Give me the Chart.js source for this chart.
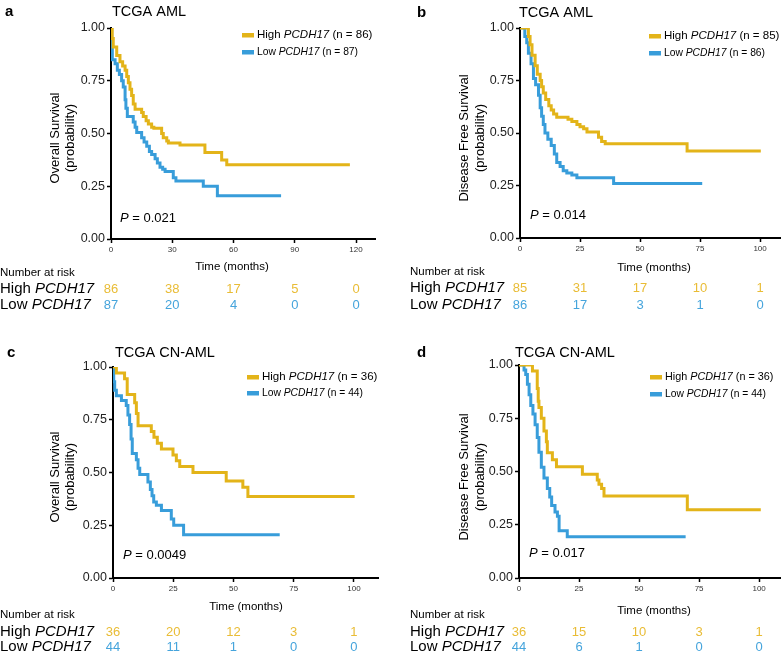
<!DOCTYPE html>
<html>
<head>
<meta charset="utf-8">
<script src="https://cdn.jsdelivr.net/npm/chart.js@4.4.1/dist/chart.umd.min.js"></script>
<style>
html, body { margin: 0; padding: 0; background: #fff; }
#wrap { position: relative; width: 784px; height: 658px; overflow: hidden; }
.panel { position: absolute; width: 392px; }
</style>
</head>
<body>
<div id="wrap">
  <div class="panel" style="left:0;top:0;height:320px"><canvas id="chartA"></canvas></div>
  <div class="panel" style="left:392px;top:0;height:320px"><canvas id="chartB"></canvas></div>
  <div class="panel" style="left:0;top:339px;height:319px"><canvas id="chartC"></canvas></div>
  <div class="panel" style="left:392px;top:339px;height:319px"><canvas id="chartD"></canvas></div>
</div>
<script>
// Kaplan-Meier curves (time in months, survival probability)
// a: TCGA AML, overall survival
const aHighTime = [0, 0.6, 1.1, 2.8, 4.4, 5.7, 6.9, 7.7, 8.5, 9.3, 10.1, 10.9, 11.8, 15.0, 15.8, 17.2, 18.3, 19.9, 21.0, 24.8, 25.6, 27.3, 28.1, 33.8, 46.0, 54.2, 56.7, 117];
const aHighSurv = [1, 0.95, 0.91, 0.87, 0.84, 0.82, 0.80, 0.77, 0.74, 0.71, 0.68, 0.64, 0.615, 0.60, 0.58, 0.56, 0.545, 0.53, 0.525, 0.50, 0.48, 0.465, 0.455, 0.445, 0.41, 0.375, 0.352, 0.352];
const aLowTime = [0, 0.3, 0.65, 2.0, 3.1, 4.1, 5.2, 6.0, 6.9, 7.3, 8.0, 10.9, 11.8, 12.6, 15.0, 16.2, 17.5, 18.8, 19.9, 21.6, 22.7, 24.0, 25.3, 26.5, 30.5, 31.8, 45.2, 52.1, 83.3];
const aLowSurv = [1, 0.92, 0.85, 0.83, 0.80, 0.78, 0.75, 0.72, 0.66, 0.62, 0.58, 0.555, 0.53, 0.505, 0.48, 0.46, 0.44, 0.415, 0.40, 0.38, 0.36, 0.34, 0.33, 0.32, 0.29, 0.275, 0.25, 0.205, 0.205];

// b: TCGA AML, disease free survival
const bHighTime = [0, 3.5, 4.2, 5.0, 6.3, 7.2, 8.4, 9.0, 9.7, 10.7, 12.0, 13.0, 14.0, 15.3, 20.0, 21.6, 23.7, 25.0, 26.5, 27.9, 32.7, 34.0, 35.5, 69.6, 100.3];
const bHighSurv = [1, 0.96, 0.92, 0.87, 0.82, 0.78, 0.75, 0.72, 0.69, 0.66, 0.63, 0.61, 0.59, 0.575, 0.565, 0.555, 0.54, 0.53, 0.52, 0.505, 0.48, 0.46, 0.449, 0.414, 0.414];
const bLowTime = [0, 2.0, 2.8, 3.5, 4.6, 5.6, 6.5, 7.7, 8.4, 9.0, 9.7, 10.4, 11.6, 13.0, 14.3, 15.3, 16.7, 18.0, 19.5, 21.6, 23.7, 39.0, 75.9];
const bLowSurv = [1, 0.96, 0.93, 0.88, 0.83, 0.76, 0.73, 0.68, 0.62, 0.58, 0.54, 0.50, 0.47, 0.44, 0.40, 0.36, 0.34, 0.32, 0.31, 0.30, 0.287, 0.26, 0.26];

// c: TCGA CN-AML, overall survival
const cHighTime = [0, 1.4, 4.8, 5.9, 9.0, 9.7, 10.4, 15.9, 17.0, 18.4, 20.1, 24.9, 26.3, 27.7, 33.2, 47.0, 53.9, 56.0, 100.3];
const cHighSurv = [1, 0.972, 0.944, 0.87, 0.83, 0.78, 0.722, 0.694, 0.667, 0.639, 0.611, 0.583, 0.556, 0.528, 0.50, 0.46, 0.43, 0.386, 0.386];
const cLowTime = [0, 0.3, 0.7, 1.4, 3.5, 5.5, 6.2, 6.9, 7.5, 8.0, 9.7, 10.4, 11.1, 14.5, 15.5, 16.2, 16.9, 18.0, 20.1, 24.2, 25.2, 29.3, 69.2];
const cLowSurv = [1, 0.93, 0.89, 0.864, 0.841, 0.818, 0.773, 0.727, 0.659, 0.59, 0.56, 0.52, 0.49, 0.455, 0.42, 0.39, 0.36, 0.345, 0.32, 0.28, 0.25, 0.205, 0.205];

// d: TCGA CN-AML, disease free survival
const dHighTime = [0, 5.6, 7.6, 8.0, 8.3, 9.3, 10.4, 11.4, 11.8, 13.9, 15.6, 26.4, 32.6, 33.3, 34.4, 35.4, 70.1, 100.7];
const dHighSurv = [1, 0.972, 0.89, 0.83, 0.80, 0.75, 0.69, 0.64, 0.588, 0.555, 0.522, 0.487, 0.46, 0.44, 0.42, 0.385, 0.32, 0.32];
const dLowTime = [0, 2.1, 2.8, 3.5, 4.2, 4.9, 5.8, 6.7, 7.6, 8.3, 9.3, 10.4, 11.8, 12.8, 13.6, 15.0, 16.0, 16.7, 20.1, 69.4];
const dLowSurv = [1, 0.977, 0.955, 0.91, 0.86, 0.81, 0.77, 0.72, 0.66, 0.59, 0.52, 0.47, 0.42, 0.38, 0.34, 0.31, 0.29, 0.222, 0.194, 0.194];

// tick values
const yTicks = [0, 0.25, 0.5, 0.75, 1];
const aTicks = [0, 30, 60, 90, 120];
const bTicks = [0, 25, 50, 75, 100];
const cTicks = [0, 25, 50, 75, 100];
const dTicks = [0, 25, 50, 75, 100];

// number at risk (at each x tick)
const aRiskHigh = [86, 38, 17, 5, 0];
const aRiskLow = [87, 20, 4, 0, 0];
const bRiskHigh = [85, 31, 17, 10, 1];
const bRiskLow = [86, 17, 3, 1, 0];
const cRiskHigh = [36, 20, 12, 3, 1];
const cRiskLow = [44, 11, 1, 0, 0];
const dRiskHigh = [36, 15, 10, 3, 1];
const dRiskLow = [44, 6, 1, 0, 0];

const FONT = "'Liberation Sans', Arial, Helvetica, sans-serif";
const GOLD = '#E3B419';
const BLUE = '#389DDA';
const GOLD_TXT = '#E9BC35';
const BLUE_TXT = '#45A4DC';

function pts(t, s) {
  return t.map((v, i) => ({ x: v, y: s[i] }));
}

// draw a run of text pieces, some italic
function rich(ctx, parts, x, y, size) {
  let cx = x;
  parts.forEach(([s, it]) => {
    ctx.font = (it ? 'italic ' : '') + size + 'px ' + FONT;
    ctx.fillText(s, cx, y);
    cx += ctx.measureText(s).width;
  });
}

function makeNotes(cfg) {
  return {
    id: 'notes' + cfg.letter,
    afterDraw(chart) {
      const ctx = chart.ctx;
      const xs = chart.scales.x;
      ctx.save();
      ctx.textBaseline = 'middle';
      ctx.textAlign = 'left';
      ctx.fillStyle = '#000';

      ctx.font = 'bold 15px ' + FONT;
      ctx.fillText(cfg.letter, cfg.letterX, cfg.titleY);
      ctx.font = '14.5px ' + FONT;
      ctx.fillText(cfg.title, cfg.titleX, cfg.titleY);

      // legend
      ctx.fillStyle = GOLD;
      ctx.fillRect(cfg.legX, cfg.legY[0] - 2, 12, 4.5);
      ctx.fillStyle = BLUE;
      ctx.fillRect(cfg.legX, cfg.legY[1] - 2, 12, 4.5);
      ctx.fillStyle = '#000';
      rich(ctx, [['High ', false], ['PCDH17', true], [' (n = ' + cfg.nHigh + ')', false]], cfg.legX + 15, cfg.legY[0], cfg.legHighSize);
      rich(ctx, [['Low ', false], ['PCDH17', true], [' (n = ' + cfg.nLow + ')', false]], cfg.legX + 15, cfg.legY[1], 10.3);

      // p value
      rich(ctx, [['P', true], [' = ' + cfg.p, false]], cfg.pX, cfg.pY, 13);

      // y title
      ctx.save();
      ctx.textAlign = 'center';
      ctx.font = '13px ' + FONT;
      cfg.yTitle.forEach((s, i) => {
        ctx.save();
        ctx.translate(cfg.yTitleX[i], 138);
        ctx.rotate(-Math.PI / 2);
        ctx.fillText(s, 0, 0);
        ctx.restore();
      });
      ctx.restore();

      // x title
      ctx.textAlign = 'center';
      ctx.font = '11.5px ' + FONT;
      ctx.fillText('Time (months)', cfg.timeX, cfg.timeY);

      // risk table
      ctx.textAlign = 'left';
      ctx.fillText('Number at risk', cfg.riskX, cfg.numY);
      rich(ctx, [['High ', false], ['PCDH17', true]], cfg.riskX, cfg.rowY[0], 15);
      rich(ctx, [['Low ', false], ['PCDH17', true]], cfg.riskX, cfg.rowY[1], 15);
      ctx.textAlign = 'center';
      ctx.font = '13px ' + FONT;
      cfg.ticks.forEach((t, i) => {
        const px = xs.getPixelForValue(t);
        ctx.fillStyle = GOLD_TXT;
        ctx.fillText(String(cfg.riskHigh[i]), px, cfg.rowY[0]);
        ctx.fillStyle = BLUE_TXT;
        ctx.fillText(String(cfg.riskLow[i]), px, cfg.rowY[1]);
      });
      ctx.restore();
    }
  };
}

function kmChart(id, high, low, cfg) {
  return new Chart(document.getElementById(id), {
    type: 'line',
    data: {
      datasets: [
        { label: 'High', data: high, borderColor: GOLD, borderWidth: 3, stepped: 'before', pointRadius: 0, fill: false },
        { label: 'Low', data: low, borderColor: BLUE, borderWidth: 3, stepped: 'before', pointRadius: 0, fill: false }
      ]
    },
    options: {
      responsive: true,
      maintainAspectRatio: false,
      devicePixelRatio: 1,
      animation: false,
      layout: { padding: cfg.pad },
      plugins: { legend: { display: false }, tooltip: { enabled: false } },
      scales: {
        x: {
          type: 'linear',
          min: 0,
          max: cfg.xMax,
          afterBuildTicks: s => { s.ticks = cfg.ticks.map(v => ({ value: v })); },
          afterFit: s => { s.height = 14; },
          border: { color: '#000', width: 2 },
          grid: { drawOnChartArea: false, tickLength: 4, tickColor: '#000', tickWidth: 1.5 },
          ticks: { font: { family: FONT, size: 8 }, color: '#333', padding: 2, maxRotation: 0, autoSkip: false }
        },
        y: {
          min: 0,
          max: 1,
          afterBuildTicks: s => { s.ticks = yTicks.map(v => ({ value: v })); },
          afterFit: s => { s.width = cfg.axisLeft; },
          border: { color: '#000', width: 2 },
          grid: { drawOnChartArea: false, tickLength: 4, tickColor: '#000', tickWidth: 1.5 },
          ticks: { font: { family: FONT, size: 12.5 }, color: '#222', padding: 2, callback: v => v.toFixed(2) }
        }
      }
    },
    plugins: [makeNotes(cfg)]
  });
}

kmChart('chartA', pts(aHighTime, aHighSurv), pts(aLowTime, aLowSurv), {
  letter: 'a', letterX: 5, title: 'TCGA AML', titleX: 112, titleY: 12,
  axisLeft: 111, xMax: 129.3, ticks: aTicks,
  pad: { left: 0, top: 28, right: 17, bottom: 67 },
  legX: 242, legY: [35, 52], legHighSize: 11.5, nHigh: 86, nLow: 87,
  p: '0.021', pX: 120, pY: 218,
  yTitle: ['Overall Survival', '(probability)'], yTitleX: [55, 70],
  timeX: 232, timeY: 267, riskX: 0, numY: 273, rowY: [289, 305],
  riskHigh: aRiskHigh, riskLow: aRiskLow
});

kmChart('chartB', pts(bHighTime, bHighSurv), pts(bLowTime, bLowSurv), {
  letter: 'b', letterX: 25, title: 'TCGA AML', titleX: 127, titleY: 13,
  axisLeft: 128, xMax: 108.3, ticks: bTicks,
  pad: { left: 0, top: 28, right: 4, bottom: 68 },
  legX: 257, legY: [36, 53], legHighSize: 11.5, nHigh: 85, nLow: 86,
  p: '0.014', pX: 138, pY: 215,
  yTitle: ['Disease Free Survival', '(probability)'], yTitleX: [72, 88],
  timeX: 262, timeY: 268, riskX: 18, numY: 272, rowY: [288, 305],
  riskHigh: bRiskHigh, riskLow: bRiskLow
});

kmChart('chartC', pts(cHighTime, cHighSurv), pts(cLowTime, cLowSurv), {
  letter: 'c', letterX: 7, title: 'TCGA CN-AML', titleX: 115, titleY: 14,
  axisLeft: 113, xMax: 110, ticks: cTicks,
  pad: { left: 0, top: 28, right: 14, bottom: 66 },
  legX: 247, legY: [38, 54], legHighSize: 11.5, nHigh: 36, nLow: 44,
  p: '0.0049', pX: 123, pY: 216,
  yTitle: ['Overall Survival', '(probability)'], yTitleX: [55, 70],
  timeX: 246, timeY: 268, riskX: 0, numY: 276, rowY: [293, 308],
  riskHigh: cRiskHigh, riskLow: cRiskLow
});

kmChart('chartD', pts(dHighTime, dHighSurv), pts(dLowTime, dLowSurv), {
  letter: 'd', letterX: 25, title: 'TCGA CN-AML', titleX: 123, titleY: 14,
  axisLeft: 127, xMax: 108.7, ticks: dTicks,
  pad: { left: 0, top: 26, right: 4, bottom: 66 },
  legX: 258, legY: [38, 55], legHighSize: 10.8, nHigh: 36, nLow: 44,
  p: '0.017', pX: 137, pY: 214,
  yTitle: ['Disease Free Survival', '(probability)'], yTitleX: [72, 88],
  timeX: 262, timeY: 272, riskX: 18, numY: 276, rowY: [293, 308],
  riskHigh: dRiskHigh, riskLow: dRiskLow
});
</script>
</body>
</html>
